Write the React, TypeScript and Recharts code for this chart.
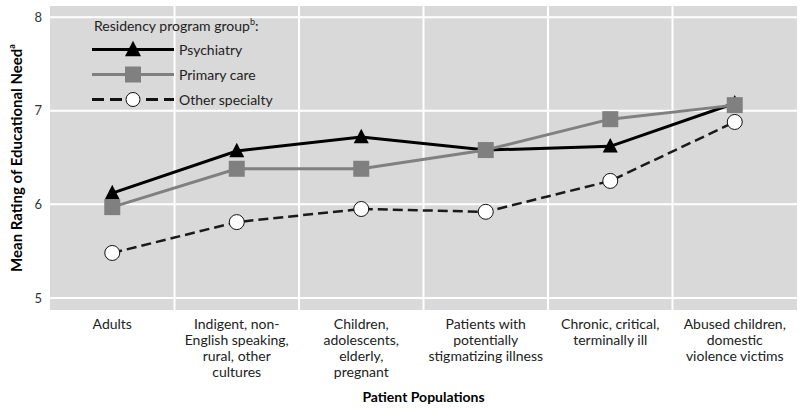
import { LineChart, Line, XAxis, YAxis, CartesianGrid } from "recharts";

const categories = ["Adults", "Indigent", "Children", "Stigmatizing", "Chronic", "Abused"];
const categoryLines = [
  ["Adults"],
  ["Indigent, non-", "English speaking,", "rural, other", "cultures"],
  ["Children,", "adolescents,", "elderly,", "pregnant"],
  ["Patients with", "potentially", "stigmatizing illness"],
  ["Chronic, critical,", "terminally ill"],
  ["Abused children,", "domestic", "violence victims"],
];
const psychiatry = [6.12, 6.57, 6.72, 6.58, 6.62, 7.08];
const primaryCare = [5.97, 6.38, 6.38, 6.58, 6.91, 7.06];
const otherSpecialty = [5.48, 5.81, 5.95, 5.92, 6.25, 6.88];
const yTicks = [5, 6, 7, 8];

const FONT = "Lato, 'Open Sans', sans-serif";

const data = categories.map((c, i) => ({
  population: c,
  psychiatry: psychiatry[i],
  primary: primaryCare[i],
  other: otherSpecialty[i],
}));

const Triangle = ({ cx, cy, size = 15 }: any) => (
  <polygon
    points={`${cx},${cy - size * 0.55} ${cx + size / 2},${cy + size * 0.42} ${cx - size / 2},${cy + size * 0.42}`}
    fill="#000"
  />
);

const Square = ({ cx, cy, size = 16 }: any) => (
  <rect x={cx - size / 2} y={cy - size / 2} width={size} height={size} fill="#808080" />
);

const Circle = ({ cx, cy, r = 7.5 }: any) => (
  <circle cx={cx} cy={cy} r={r} fill="#fff" stroke="#111" strokeWidth={1} />
);

function XTick({ x, y, payload }: any) {
  const idx = categories.indexOf(payload.value);
  const lines = categoryLines[idx] || [payload.value];
  return (
    <text x={x} y={y + 10} textAnchor="middle" fontFamily={FONT} fontSize={14} fill="#222">
      {lines.map((l, i) => (
        <tspan key={i} x={x} dy={i === 0 ? 0 : 16}>
          {l}
        </tspan>
      ))}
    </text>
  );
}

function YLabel({ viewBox }: any) {
  const cy = viewBox.y + viewBox.height / 2;
  return (
    <text
      x={16}
      y={cy}
      transform={`rotate(-90, 16, ${cy})`}
      textAnchor="middle"
      dominantBaseline="central"
      fontFamily={FONT}
      fontSize={15}
      fontWeight="bold"
      fill="#000"
    >
      Mean Rating of Educational Need
      <tspan fontSize={9} dy={-5}>a</tspan>
    </text>
  );
}

function LegendRow({ kind, label }: { kind: string; label: string }) {
  return (
    <div style={{ display: "flex", alignItems: "center", height: 25 }}>
      <svg width={82} height={25} style={{ display: "block" }}>
        {kind === "psych" && (
          <>
            <line x1={0} x2={82} y1={12.5} y2={12.5} stroke="#000" strokeWidth={3} />
            <Triangle cx={41} cy={12.5} size={16} />
          </>
        )}
        {kind === "primary" && (
          <>
            <line x1={0} x2={82} y1={12.5} y2={12.5} stroke="#808080" strokeWidth={3} />
            <Square cx={41} cy={12.5} size={16} />
          </>
        )}
        {kind === "other" && (
          <>
            <line x1={0} x2={82} y1={12.5} y2={12.5} stroke="#111" strokeWidth={3} strokeDasharray="12 6" />
            <Circle cx={41} cy={12.5} r={7} />
          </>
        )}
      </svg>
      <span style={{ marginLeft: 5, fontSize: 14, color: "#222", lineHeight: "25px" }}>{label}</span>
    </div>
  );
}

function ChartLegend() {
  return (
    <div style={{ position: "absolute", left: 92, top: 15, fontFamily: FONT }}>
      <div style={{ height: 22, lineHeight: "22px", fontSize: 14, color: "#222", paddingLeft: 2 }}>
        Residency program group<sup style={{ fontSize: 9, lineHeight: 0 }}>b</sup>:
      </div>
      <LegendRow kind="psych" label="Psychiatry" />
      <LegendRow kind="primary" label="Primary care" />
      <LegendRow kind="other" label="Other specialty" />
    </div>
  );
}

export default function App() {
  return (
    <div style={{ position: "absolute", left: 0, top: 0, width: 800, height: 408, background: "#fff", fontFamily: FONT }}>
      <LineChart width={800} height={408} data={data} margin={{ top: 5, right: 3, bottom: 0, left: 0 }}>
        <CartesianGrid
          fill="#d9d9d9"
          stroke="#fff"
          strokeWidth={2}
          verticalCoordinatesGenerator={({ offset }: any) =>
            categories.slice(1).map((_, i) => offset.left + ((i + 1) * offset.width) / categories.length)
          }
        />
        <XAxis
          dataKey="population"
          scale="band"
          interval={0}
          tickLine={false}
          axisLine={false}
          height={97}
          tick={<XTick />}
          label={{
            value: "Patient Populations",
            position: "insideBottom",
            offset: 6,
            style: { fontFamily: FONT, fontSize: 14, fontWeight: "bold", fill: "#000" },
          }}
        />
        <YAxis
          width={50}
          domain={[4.86, 8.13]}
          ticks={yTicks}
          tickLine={false}
          axisLine={false}
          tick={{ fontFamily: FONT, fontSize: 13, fill: "#333" }}
          label={<YLabel />}
        />
        <Line
          dataKey="psychiatry"
          stroke="#000"
          strokeWidth={3}
          dot={(p: any) => <Triangle key={p.key ?? p.index} cx={p.cx} cy={p.cy} />}
          isAnimationActive={false}
        />
        <Line
          dataKey="primary"
          stroke="#808080"
          strokeWidth={3}
          dot={(p: any) => <Square key={p.key ?? p.index} cx={p.cx} cy={p.cy} />}
          isAnimationActive={false}
        />
        <Line
          dataKey="other"
          stroke="#1a1a1a"
          strokeWidth={2.5}
          strokeDasharray="10 5"
          dot={(p: any) => <Circle key={p.key ?? p.index} cx={p.cx} cy={p.cy} />}
          isAnimationActive={false}
        />
      </LineChart>
      <ChartLegend />
    </div>
  );
}
